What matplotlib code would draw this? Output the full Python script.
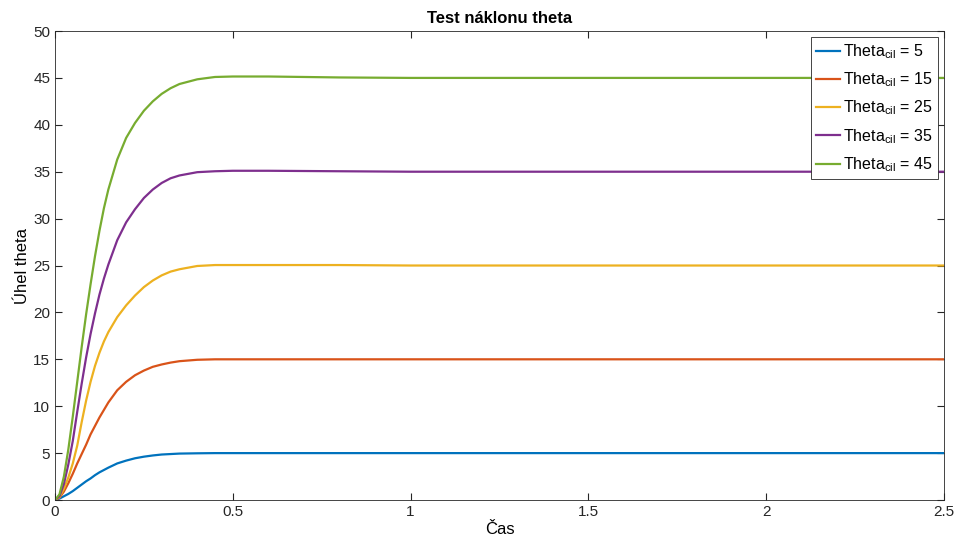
import matplotlib.pyplot as plt

plt.rcParams['font.family'] = ['Liberation Sans', 'DejaVu Sans']
plt.rcParams['mathtext.fontset'] = 'custom'
plt.rcParams['mathtext.rm'] = 'Liberation Sans'

# time samples
t = [0, 0.0125, 0.025, 0.0375, 0.05, 0.0625, 0.075, 0.0875, 0.1, 0.1125,
     0.125, 0.1375, 0.15, 0.175, 0.2, 0.225, 0.25, 0.275, 0.3, 0.325,
     0.35, 0.4, 0.45, 0.5, 0.6, 0.8, 1.0, 1.5, 2.0, 2.5]

theta_5 = [0, 0.15, 0.4, 0.65, 0.95, 1.3, 1.65, 2.0, 2.3, 2.65,
           2.95, 3.2, 3.45, 3.9, 4.2, 4.45, 4.62, 4.75, 4.85, 4.9,
           4.95, 4.98, 5.0, 5.0, 5.0, 5.0, 5.0, 5.0, 5.0, 5.0]
theta_15 = [0, 0.25, 0.9, 1.8, 2.8, 3.9, 4.9, 5.9, 7.0, 7.9,
            8.8, 9.6, 10.4, 11.7, 12.6, 13.3, 13.8, 14.2, 14.45, 14.65,
            14.8, 14.95, 15.0, 15.0, 15.0, 15.0, 15.0, 15.0, 15.0, 15.0]
theta_25 = [0, 0.3, 1.2, 2.4, 3.9, 5.8, 8.3, 10.6, 12.6, 14.3,
            15.7, 16.9, 17.9, 19.5, 20.75, 21.8, 22.7, 23.4, 23.95, 24.35,
            24.6, 24.95, 25.05, 25.05, 25.05, 25.05, 25.0, 25.0, 25.0, 25.0]
theta_35 = [0, 0.4, 1.7, 3.8, 6.3, 9.4, 12.4, 15.2, 17.7, 19.9,
            21.9, 23.6, 25.1, 27.7, 29.6, 31.0, 32.2, 33.1, 33.8, 34.3,
            34.6, 34.95, 35.05, 35.1, 35.1, 35.05, 35.0, 35.0, 35.0, 35.0]
theta_45 = [0, 0.6, 2.5, 5.4, 8.9, 12.6, 16.3, 19.8, 23.0, 26.0,
            28.7, 31.1, 33.1, 36.3, 38.6, 40.2, 41.5, 42.5, 43.3, 43.9,
            44.35, 44.85, 45.1, 45.15, 45.15, 45.05, 45.0, 45.0, 45.0, 45.0]

series = [theta_5, theta_15, theta_25, theta_35, theta_45]
targets = [5, 15, 25, 35, 45]
colors = ['#0072BD', '#D95319', '#EDB120', '#7E2F8E', '#77AC30']

fig = plt.figure(figsize=(9.6, 5.47), dpi=100)
ax = fig.add_axes([0.0573, 0.0859, 0.926, 0.8574])

for vals, tgt, c in zip(series, targets, colors):
    ax.plot(t, vals, color=c, lw=1.6, solid_joinstyle='round',
            label=r'Theta$_{\mathregular{cil}}$ = %d' % tgt)

ax.set_xlim(0, 2.5)
ax.set_ylim(0, 50)
ax.set_xticks([0, 0.5, 1, 1.5, 2, 2.5])
ax.set_xticklabels(['0', '0.5', '1', '1.5', '2', '2.5'])
ax.set_yticks(range(0, 51, 5))

ax.tick_params(direction='in', top=True, right=True, labelsize=11,
               colors='#262626', length=5)
for s in ax.spines.values():
    s.set_color('#262626')
    s.set_linewidth(0.6)

ax.set_title('Test náklonu theta', fontsize=12, fontweight='bold', pad=6)
ax.set_xlabel('Čas', fontsize=12, labelpad=2)
ax.set_ylabel('Úhel theta', fontsize=12, labelpad=2)

leg = ax.legend(loc='upper right', fontsize=11.5, fancybox=False,
                framealpha=1, edgecolor='#262626', handlelength=1.5,
                handletextpad=0.2, borderpad=0.3, borderaxespad=0.4,
                labelspacing=0.6)
leg.get_frame().set_linewidth(0.6)

fig.savefig('out.png', dpi=100)
